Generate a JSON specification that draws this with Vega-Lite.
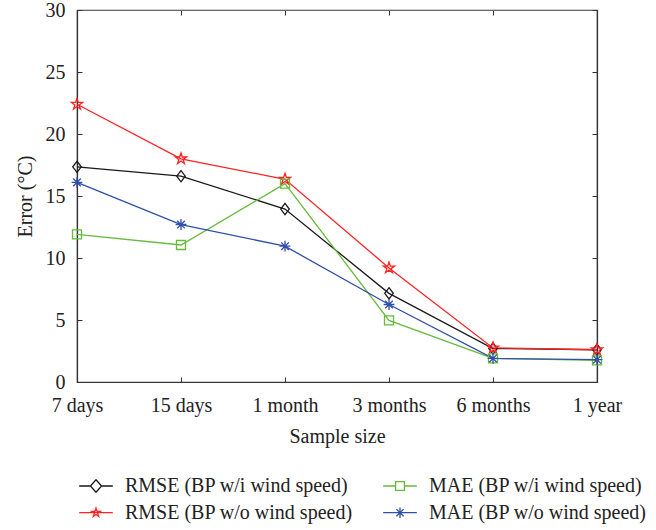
{
  "$schema": "https://vega.github.io/schema/vega-lite/v6.json",
  "width": 520,
  "height": 372,
  "autosize": {"type": "none"},
  "padding": {"left": 77, "top": 10, "right": 59, "bottom": 148},
  "background": "white",
  "config": {
    "view": {"stroke": "#444", "strokeWidth": 1.2},
    "font": "Liberation Serif",
    "axis": {
      "labelFont": "Liberation Serif",
      "labelFontSize": 20,
      "labelColor": "#222",
      "titleFont": "Liberation Serif",
      "titleFontSize": 20,
      "titleFontWeight": "normal",
      "titleColor": "#222",
      "domainColor": "#333",
      "domainWidth": 1.2,
      "tickColor": "#333",
      "tickWidth": 1,
      "grid": false
    },
    "legend": {
      "labelFont": "Liberation Serif",
      "labelFontSize": 20,
      "labelColor": "#222",
      "labelLimit": 0
    }
  },
  "data": {
    "values": [
      {"size": "7 days", "series": "RMSE (BP w/i wind speed)", "value": 17.35},
      {"size": "15 days", "series": "RMSE (BP w/i wind speed)", "value": 16.6},
      {"size": "1 month", "series": "RMSE (BP w/i wind speed)", "value": 13.95},
      {"size": "3 months", "series": "RMSE (BP w/i wind speed)", "value": 7.15},
      {"size": "6 months", "series": "RMSE (BP w/i wind speed)", "value": 2.7},
      {"size": "1 year", "series": "RMSE (BP w/i wind speed)", "value": 2.6},
      {"size": "7 days", "series": "RMSE (BP w/o wind speed)", "value": 22.4},
      {"size": "15 days", "series": "RMSE (BP w/o wind speed)", "value": 18.0},
      {"size": "1 month", "series": "RMSE (BP w/o wind speed)", "value": 16.35},
      {"size": "3 months", "series": "RMSE (BP w/o wind speed)", "value": 9.2},
      {"size": "6 months", "series": "RMSE (BP w/o wind speed)", "value": 2.75},
      {"size": "1 year", "series": "RMSE (BP w/o wind speed)", "value": 2.6},
      {"size": "7 days", "series": "MAE (BP w/i wind speed)", "value": 11.9},
      {"size": "15 days", "series": "MAE (BP w/i wind speed)", "value": 11.05},
      {"size": "1 month", "series": "MAE (BP w/i wind speed)", "value": 16.0},
      {"size": "3 months", "series": "MAE (BP w/i wind speed)", "value": 4.97},
      {"size": "6 months", "series": "MAE (BP w/i wind speed)", "value": 1.9},
      {"size": "1 year", "series": "MAE (BP w/i wind speed)", "value": 1.75},
      {"size": "7 days", "series": "MAE (BP w/o wind speed)", "value": 16.1},
      {"size": "15 days", "series": "MAE (BP w/o wind speed)", "value": 12.7},
      {"size": "1 month", "series": "MAE (BP w/o wind speed)", "value": 10.95},
      {"size": "3 months", "series": "MAE (BP w/o wind speed)", "value": 6.25},
      {"size": "6 months", "series": "MAE (BP w/o wind speed)", "value": 1.9},
      {"size": "1 year", "series": "MAE (BP w/o wind speed)", "value": 1.8}
    ]
  },
  "resolve": {
    "scale": {"color": "independent", "shape": "independent"},
    "axis": {"x": "independent", "y": "independent"}
  },
  "layer": [
    {
      "mark": {"type": "line", "strokeWidth": 1.3},
      "encoding": {
        "x": {
          "field": "size", "type": "ordinal",
          "scale": {"type": "point", "padding": 0, "domain": ["7 days", "15 days", "1 month", "3 months", "6 months", "1 year"]},
          "axis": {"orient": "bottom", "title": "Sample size", "labelAngle": 0, "tickSize": -5, "labelPadding": 18, "titlePadding": 11}
        },
        "y": {
          "field": "value", "type": "quantitative",
          "scale": {"domain": [0, 30], "nice": false, "zero": true},
          "axis": {"orient": "left", "title": "Error (°C)", "values": [0, 5, 10, 15, 20, 25, 30], "tickSize": -5, "labelPadding": 17, "titlePadding": 10}
        },
        "color": {
          "field": "series", "type": "nominal", "legend": null,
          "scale": {
            "domain": ["RMSE (BP w/i wind speed)", "RMSE (BP w/o wind speed)", "MAE (BP w/i wind speed)", "MAE (BP w/o wind speed)"],
            "range": ["#1a1a1a", "#ff2222", "#66bb3a", "#2f4fa8"]
          }
        }
      }
    },
    {
      "mark": {"type": "point", "filled": false, "size": 81, "strokeWidth": 1.3, "opacity": 1},
      "encoding": {
        "x": {
          "field": "size", "type": "ordinal",
          "scale": {"type": "point", "padding": 0, "domain": ["7 days", "15 days", "1 month", "3 months", "6 months", "1 year"]},
          "axis": {"orient": "top", "title": null, "labels": false, "tickSize": -5, "domainColor": "#666"}
        },
        "y": {
          "field": "value", "type": "quantitative",
          "scale": {"domain": [0, 30], "nice": false, "zero": true},
          "axis": {"orient": "right", "title": null, "labels": false, "values": [0, 5, 10, 15, 20, 25, 30], "tickSize": -5}
        },
        "color": {
          "field": "series", "type": "nominal", "legend": null,
          "scale": {
            "domain": ["RMSE (BP w/i wind speed)", "RMSE (BP w/o wind speed)", "MAE (BP w/i wind speed)", "MAE (BP w/o wind speed)"],
            "range": ["#1a1a1a", "#ff2222", "#66bb3a", "#2f4fa8"]
          }
        },
        "shape": {
          "field": "series", "type": "nominal", "legend": null,
          "scale": {
            "domain": ["RMSE (BP w/i wind speed)", "RMSE (BP w/o wind speed)", "MAE (BP w/i wind speed)", "MAE (BP w/o wind speed)"],
            "range": [
              "M0,-1.25L0.95,0L0,1.25L-0.95,0Z",
              "M0,-1.3L0.294,-0.405L1.236,-0.402L0.476,0.155L0.764,1.052L0,0.5L-0.764,1.052L-0.476,0.155L-1.236,-0.402L-0.294,-0.405Z",
              "M-1,-1H1V1H-1Z",
              "M0,-1.2V1.2M-1.2,0H1.2M-0.85,-0.85L0.85,0.85M-0.85,0.85L0.85,-0.85"
            ]
          }
        }
      }
    },
    {
      "mark": {"type": "point", "filled": false, "size": 64, "strokeWidth": 1.3, "opacity": 0},
      "encoding": {
        "x": {
          "field": "size", "type": "ordinal",
          "scale": {"type": "point", "padding": 0, "domain": ["7 days", "15 days", "1 month", "3 months", "6 months", "1 year"]},
          "axis": null
        },
        "y": {
          "field": "value", "type": "quantitative",
          "scale": {"domain": [0, 30], "nice": false, "zero": true},
          "axis": null
        },
        "color": {
          "field": "series", "type": "nominal",
          "scale": {
            "domain": ["RMSE (BP w/i wind speed)", "RMSE (BP w/o wind speed)", "MAE (BP w/i wind speed)", "MAE (BP w/o wind speed)"],
            "range": ["#1a1a1a", "#ff2222", "#66bb3a", "#2f4fa8"]
          },
          "legend": {
            "title": null, "orient": "none", "legendX": 9, "legendY": 466,
            "columns": 2, "columnPadding": 27, "rowPadding": 6.7,
            "symbolSize": 64, "symbolOpacity": 1, "symbolStrokeWidth": 1.3, "labelOffset": 19, "labelLimit": 0
          }
        },
        "shape": {
          "field": "series", "type": "nominal",
          "scale": {
            "domain": ["RMSE (BP w/i wind speed)", "RMSE (BP w/o wind speed)", "MAE (BP w/i wind speed)", "MAE (BP w/o wind speed)"],
            "range": [
              "M-4.2,0H-1.4M1.4,0H4.2M0,-1.55L1.4,0L0,1.55L-1.4,0Z",
              "M-4.2,0H4.2M0,-1.15L0.26,-0.358L1.094,-0.355L0.421,0.137L0.676,0.93L0,0.442L-0.676,0.93L-0.421,0.137L-1.094,-0.355L-0.26,-0.358Z",
              "M-4.2,0H-1.1M1.1,0H4.2M-1.1,-1.1H1.1V1.1H-1.1Z",
              "M-4.2,0H4.2M0,-1.3V1.3M-0.9,-0.9L0.9,0.9M-0.9,0.9L0.9,-0.9"
            ]
          },
          "legend": {
            "title": null, "orient": "none", "legendX": 9, "legendY": 466,
            "columns": 2, "columnPadding": 27, "rowPadding": 6.7,
            "symbolSize": 64, "symbolOpacity": 1, "symbolStrokeWidth": 1.3, "labelOffset": 19, "labelLimit": 0
          }
        }
      }
    }
  ]
}
